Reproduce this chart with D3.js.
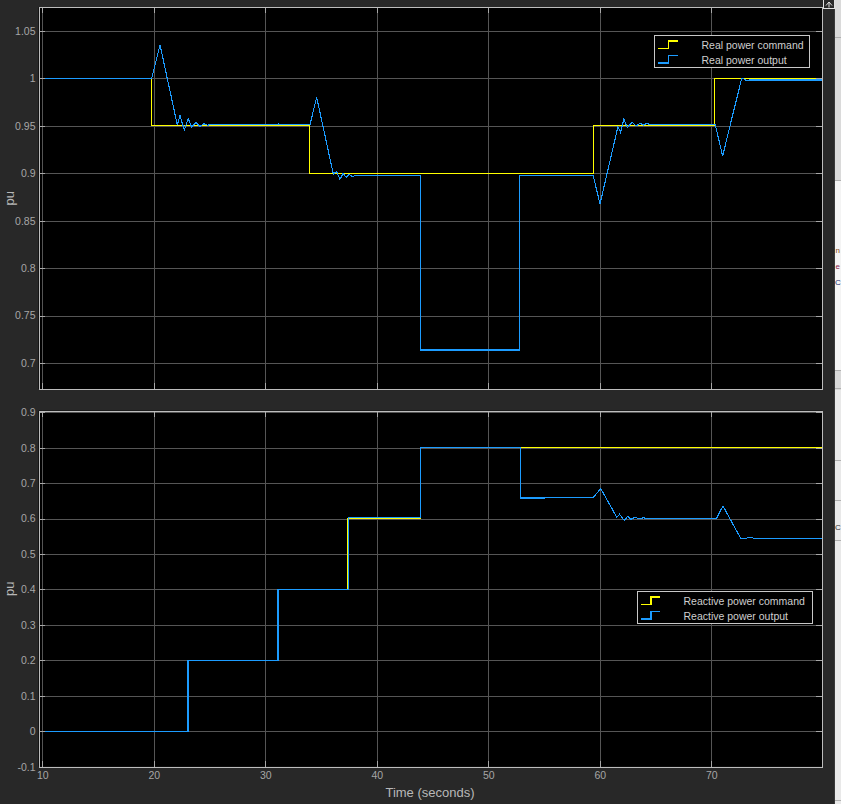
<!DOCTYPE html>
<html><head><meta charset="utf-8">
<script src="https://cdn.jsdelivr.net/npm/d3@7"></script>
<style>
html,body{margin:0;padding:0;background:#282828;overflow:hidden}
svg{display:block}
text{font-family:"Liberation Sans",Arial,Helvetica,sans-serif}
</style></head><body>
<svg id="chart" width="841" height="804"></svg>
<script>
// ---------- data ----------
const timeTicks = [10, 20, 30, 40, 50, 60, 70];
const pTicks = [0.7, 0.75, 0.8, 0.85, 0.9, 0.95, 1, 1.05];
const qTicks = [-0.1, 0, 0.1, 0.2, 0.3, 0.4, 0.5, 0.6, 0.7, 0.8, 0.9];
const timeDomain = [9.66, 79.96];
const pDomain = [0.6726, 1.0749];
const qDomain = [-0.1, 0.9045];

const pCommandTime  = [9.66, 19.81, 33.98, 59.46, 70.30, 79.96];
const pCommandValue = [1, 0.95, 0.9, 0.95, 1, 1];

const pOutputTime = [9.66, 19.81, 20.56, 22.11, 22.35, 22.74, 23.09, 23.40, 23.78, 24.14, 24.50, 24.83, 25.10,
  31.12, 31.17, 31.25, 34.01, 34.61, 36.10, 36.40, 36.70, 36.98, 37.25, 37.52, 37.80, 38.00,
  43.96, 43.96, 52.84, 52.84, 59.42, 60.02, 61.63, 61.87, 62.16, 62.47, 62.91, 63.25, 63.64, 63.90, 64.26, 64.45,
  70.36, 71.02, 72.73, 72.93, 73.18, 73.40, 79.96];
const pOutputValue = [1, 1, 1.0352, 0.9509, 0.9607, 0.9456, 0.9575, 0.9484, 0.9537, 0.9495, 0.9522, 0.9506, 0.9513,
  0.9513, 0.9524, 0.9513, 0.9513, 0.9801, 0.8992, 0.9016, 0.8936, 0.8998, 0.8958, 0.8985, 0.8968, 0.8972,
  0.8972, 0.7137, 0.7137, 0.8972, 0.8972, 0.8676, 0.949, 0.943, 0.9569, 0.948, 0.954, 0.950, 0.9527, 0.9506, 0.9527, 0.9512,
  0.9512, 0.9182, 1.0, 0.9993, 0.9973, 0.9983, 0.9983];

const qCommandTime  = [9.66, 23.07, 31.14, 37.38, 43.96, 79.96];
const qCommandValue = [0, 0.2, 0.4, 0.6, 0.8, 0.8];

const qOutputTime = [9.66, 23.07, 23.07, 31.14, 31.14, 37.47, 37.47, 43.96, 43.96, 52.91, 52.91, 55.02, 55.02, 59.42,
  60.09, 61.53, 61.77, 62.19, 62.52, 62.80, 63.16, 63.45, 63.80, 63.96, 64.05, 70.48, 71.05, 72.64, 72.87, 73.32, 73.62, 73.80, 79.96];
const qOutputValue = [0, 0, 0.2, 0.2, 0.4, 0.4, 0.6028, 0.6028, 0.8, 0.8, 0.6583, 0.6583, 0.6603, 0.6603,
  0.6845, 0.6038, 0.6123, 0.5954, 0.6067, 0.5982, 0.6038, 0.6, 0.601, 0.6038, 0.601, 0.601, 0.6357, 0.5446, 0.5426, 0.5463, 0.5474, 0.5446, 0.5446];

const legendTop = ["Real power command", "Real power output"];
const legendBottom = ["Reactive power command", "Reactive power output"];
const xLabel = "Time (seconds)";
const yLabel = "pu";

// ---------- style ----------
const C = {bg:"#282828", plot:"#000000", grid:"#555555", frame:"#bdbdbd", tick:"#a8a8a8",
  label:"#a6a6a6", title:"#b8b8b8", cmd:"#ffff00", out:"#1c9cff", legText:"#cfcfcf", legBorder:"#c8c8c8"};

const svg = d3.select("#chart");
svg.append("rect").attr("width",841).attr("height",804).attr("fill",C.bg);

const x = d3.scaleLinear().domain(timeDomain).range([38.5, 822.3]);
const yP = d3.scaleLinear().domain(pDomain).range([389, 7.3]);
const yQ = d3.scaleLinear().domain(qDomain).range([766.7, 410.7]);
const fmt = d => String(+d.toFixed(2));

function panel(y, ticks, cmdT, cmdV, outT, outV, labelY, showX) {
  const [y0, y1] = y.range(); // bottom, top
  const x0 = x.range()[0], x1 = x.range()[1];
  const g = svg.append("g");
  g.append("rect").attr("x",x0).attr("y",y1).attr("width",x1-x0).attr("height",y0-y1).attr("fill",C.plot);
  const grid = g.append("g").attr("shape-rendering","crispEdges");
  grid.selectAll("line.h").data(ticks).join("line").attr("class","h")
    .attr("x1",x0).attr("x2",x1).attr("y1",d=>Math.round(y(d))+0.5).attr("y2",d=>Math.round(y(d))+0.5)
    .attr("stroke",C.grid);
  grid.selectAll("line.v").data(timeTicks).join("line").attr("class","v")
    .attr("y1",y1).attr("y2",y0).attr("x1",d=>Math.round(x(d))+0.5).attr("x2",d=>Math.round(x(d))+0.5)
    .attr("stroke",C.grid);
  const clipId = "clip"+Math.round(y1);
  g.append("clipPath").attr("id",clipId).append("rect").attr("x",x0).attr("y",y1).attr("width",x1-x0).attr("height",y0-y1);
  const lineStep = d3.line().x(d=>x(d[0])).y(d=>y(d[1])).curve(d3.curveStepAfter);
  const lineLin = d3.line().x(d=>x(d[0])).y(d=>y(d[1]));
  const cmd = cmdT.map((t,i)=>[t,cmdV[i]]);
  const out = outT.map((t,i)=>[t,outV[i]]);
  g.append("path").attr("clip-path",`url(#${clipId})`).attr("d",lineStep(cmd)).attr("fill","none")
    .attr("stroke",C.cmd).attr("stroke-width",1).attr("shape-rendering","crispEdges");
  g.append("path").attr("clip-path",`url(#${clipId})`).attr("d",lineLin(out)).attr("fill","none")
    .attr("stroke",C.out).attr("stroke-width",1.1).attr("shape-rendering","crispEdges");
  const tk = g.append("g").attr("shape-rendering","crispEdges").attr("stroke",C.tick);
  ticks.forEach(d=>{
    const yy = Math.round(y(d))+0.5;
    tk.append("line").attr("x1",x0).attr("x2",x0+6).attr("y1",yy).attr("y2",yy);
    tk.append("line").attr("x1",x1-6).attr("x2",x1).attr("y1",yy).attr("y2",yy);
  });
  timeTicks.forEach(d=>{
    const xx = Math.round(x(d))+0.5;
    tk.append("line").attr("x1",xx).attr("x2",xx).attr("y1",y0-6).attr("y2",y0);
    tk.append("line").attr("x1",xx).attr("x2",xx).attr("y1",y1).attr("y2",y1+6);
  });
  g.append("rect").attr("x",Math.round(x0)+0.5).attr("y",Math.round(y1)+0.5)
    .attr("width",Math.round(x1)-Math.round(x0)).attr("height",Math.round(y0)-Math.round(y1))
    .attr("fill","none").attr("stroke",C.frame).attr("shape-rendering","crispEdges");
  const ax = g.append("g").attr("transform",`translate(${x0},0)`)
    .call(d3.axisLeft(y).tickValues(ticks).tickFormat(fmt).tickSize(0).tickPadding(3));
  ax.select(".domain").remove();
  ax.selectAll("text").attr("fill",C.label).attr("font-size","10.5px").attr("font-family",'"Liberation Sans",Arial,sans-serif');
  if (showX) {
    const bx = g.append("g").attr("transform",`translate(0,${y0})`)
      .call(d3.axisBottom(x).tickValues(timeTicks).tickFormat(fmt).tickSize(0).tickPadding(5));
    bx.select(".domain").remove();
    bx.selectAll("text").attr("fill",C.label).attr("font-size","10.5px").attr("font-family",'"Liberation Sans",Arial,sans-serif');
    g.append("text").attr("x",430).attr("y",796.5).attr("text-anchor","middle").attr("fill",C.title)
      .attr("font-size","13px").text(xLabel);
  }
  g.append("text").attr("transform",`translate(13.5,${(y0+y1)/2}) rotate(-90)`).attr("text-anchor","middle")
    .attr("fill",C.title).attr("font-size","13px").text(labelY);
}

panel(yP, pTicks, pCommandTime, pCommandValue, pOutputTime, pOutputValue, yLabel, false);
panel(yQ, qTicks, qCommandTime, qCommandValue, qOutputTime, qOutputValue, yLabel, true);

function legend(bx, by, w, h, names, iconX, textX, rows) {
  const g = svg.append("g").attr("transform",`translate(${bx},${by})`);
  g.append("rect").attr("x",0.5).attr("y",0.5).attr("width",w).attr("height",h).attr("fill","#000")
    .attr("stroke",C.legBorder).attr("shape-rendering","crispEdges");
  [C.cmd, C.out].forEach((col,i)=>{
    const r = rows[i];
    g.append("path").attr("d",`M${iconX},${r+3.5}H${iconX+10.5}V${r-4}H${iconX+19.5}`)
      .attr("fill","none").attr("stroke",col).attr("stroke-width",1.2).attr("shape-rendering","crispEdges");
    g.append("text").attr("x",textX).attr("y",r+4).attr("fill",C.legText).attr("font-size","10.5px").text(names[i]);
  });
}
legend(654, 35, 155, 31.5, legendTop, 4, 47.5, [10, 24.5]);
legend(636.5, 591, 175, 31.5, legendBottom, 4, 47, [10, 24.5]);

// window edge decoration on the right
const edge = svg.append("g").attr("shape-rendering","crispEdges");
edge.append("rect").attr("x",835).attr("y",0).attr("width",6).attr("height",804).attr("fill","#dadada");
edge.append("rect").attr("x",835).attr("y",180).attr("width",6).attr("height",190).attr("fill","#f4f4f4");
edge.append("rect").attr("x",835).attr("y",390).attr("width",6).attr("height",414).attr("fill","#e9e9e9");
[37, 180, 370, 388, 460, 500, 540, 800].forEach(v=>edge.append("line").attr("x1",835).attr("x2",841)
  .attr("y1",v+0.5).attr("y2",v+0.5).attr("stroke","#b0b0b0"));
edge.append("line").attr("x1",834.5).attr("x2",834.5).attr("y1",0).attr("y2",804).attr("stroke","#3a3a3a");
const et = svg.append("g").attr("font-size","8px");
et.append("text").attr("x",835.5).attr("y",253).attr("fill","#8a4a10").text("n");
et.append("text").attr("x",835.5).attr("y",269).attr("fill","#8a1a4a").text("e");
et.append("text").attr("x",835).attr("y",285).attr("fill","#1f2f6f").text("C");
et.append("text").attr("x",835).attr("y",530).attr("fill","#333").text("C");
svg.append("rect").attr("x",823.5).attr("y",-0.5).attr("width",11).attr("height",9).attr("fill","#2a2a2a")
  .attr("stroke","#e0e0e0").attr("shape-rendering","crispEdges");
svg.append("path").attr("d","M826,5.5L829,2L832,5.5M829,2V7.5").attr("fill","none").attr("stroke","#e0e0e0");
</script>
</body></html>
